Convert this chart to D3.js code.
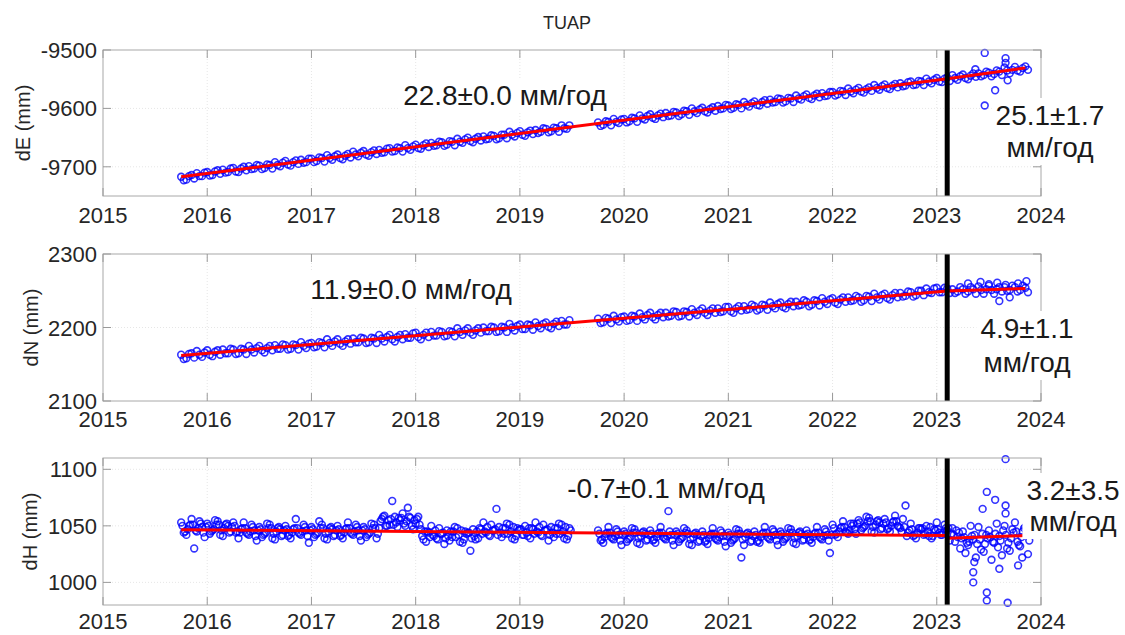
<!DOCTYPE html>
<html lang="ru">
<head>
<meta charset="UTF-8">
<title>TUAP</title>
<script src="https://d3js.org/d3.v7.min.js"></script>
<style>
  body { margin: 0; background: #fff; }
  svg { font-family: "Liberation Sans", Arial, sans-serif; }
</style>
</head>
<body>
<div id="chart"></div>
<script>
// station and time axis
const station = "TUAP";
const yearTicks = [2015, 2016, 2017, 2018, 2019, 2020, 2021, 2022, 2023, 2024];
const breakEpoch = 2023.1;
// solutions grouped in 0.05 yr bins from 2015.75 to 2023.85
const epochs = d3.range(163).map(i => +(2015.75 + 0.05 * i).toFixed(2));

// East component (mm), two solutions per bin, null = no data
const dE = [
  [-9717,-9723],[-9722,-9716],[-9714,-9720],[-9711,-9716],[-9716,-9710],
  [-9709,-9715],[-9714,-9708],[-9706,-9712],[-9705,-9710],[-9709,-9703],[-9702,-9708],[-9709,-9703],[-9700,-9706],[-9699,-9704],[-9703,-9697],
  [-9698,-9704],[-9702,-9696],[-9697,-9703],[-9692,-9697],[-9699,-9693],[-9690,-9696],[-9698,-9692],[-9689,-9695],[-9688,-9693],[-9692,-9686],
  [-9686,-9692],[-9690,-9684],[-9685,-9691],[-9680,-9685],[-9688,-9682],[-9679,-9685],[-9687,-9681],[-9678,-9684],[-9674,-9679],[-9682,-9676],
  [-9673,-9679],[-9681,-9675],[-9672,-9678],[-9671,-9676],[-9675,-9669],[-9668,-9674],[-9673,-9667],[-9668,-9674],[-9663,-9668],[-9671,-9665],
  [-9662,-9668],[-9669,-9663],[-9660,-9666],[-9659,-9664],[-9663,-9657],[-9658,-9664],[-9662,-9656],[-9657,-9663],[-9652,-9657],[-9659,-9653],
  [-9650,-9656],[-9658,-9652],[-9649,-9655],[-9648,-9653],[-9652,-9646],[-9647,-9653],[-9651,-9645],[-9645,-9651],[-9640,-9645],[-9648,-9642],
  [-9639,-9645],[-9647,-9641],[-9638,-9644],[-9637,-9642],[-9640,-9634],[-9635,-9641],[-9639,-9633],[-9634,-9640],[-9629,-9634],[-9635,-9629],
  null,null,null,null,null,
  [-9624,-9630],[-9628,-9622],[-9623,-9629],[-9618,-9623],[-9625,-9619],
  [-9618,-9624],[-9622,-9616],[-9617,-9623],[-9612,-9617],[-9619,-9613],[-9610,-9616],[-9618,-9612],[-9609,-9615],[-9608,-9613],[-9612,-9606],
  [-9607,-9613],[-9610,-9604],[-9605,-9611],[-9600,-9605],[-9608,-9602],[-9599,-9605],[-9607,-9601],[-9598,-9604],[-9596,-9601],[-9600,-9594],
  [-9595,-9601],[-9599,-9593],[-9594,-9600],[-9589,-9594],[-9597,-9591],[-9588,-9594],[-9595,-9589],[-9586,-9592],[-9585,-9590],[-9589,-9583],
  [-9584,-9590],[-9588,-9582],[-9583,-9589],[-9578,-9583],[-9585,-9579],[-9576,-9582],[-9584,-9578],[-9575,-9581],[-9574,-9579],[-9578,-9572],
  [-9572,-9578],[-9576,-9570],[-9571,-9577],[-9566,-9571],[-9574,-9568],[-9565,-9571],[-9573,-9567],[-9564,-9570],[-9560,-9565],[-9568,-9562],
  [-9559,-9565],[-9567,-9561],[-9558,-9564],[-9557,-9562],[-9561,-9555],[-9554,-9560],[-9559,-9553],[-9554,-9560],[-9549,-9554],[-9557,-9551],
  [-9548,-9554],[-9555,-9549],[-9547,-9553],
  [-9543,-9548],[-9551,-9545],[-9542,-9548],[-9550,-9544],[-9540,-9546],[-9540,-9545],[-9543,-9537],[-9539,-9545],
  [-9541,-9535],[-9537,-9543],[-9530,-9535],[-9540,-9534],[-9529,-9535],[-9537,-9531],[-9528,-9534]
];
// North component (mm)
const dN = [
  [2163,2157],[2158,2164],[2165,2159],[2168,2163],[2160,2166],
  [2169,2163],[2161,2167],[2169,2163],[2170,2165],[2165,2171],[2170,2164],[2165,2171],[2170,2164],[2175,2170],[2166,2172],
  [2175,2169],[2166,2172],[2175,2169],[2176,2171],[2171,2177],[2176,2170],[2171,2177],[2176,2170],[2180,2175],[2172,2178],
  [2179,2173],[2174,2180],[2179,2173],[2184,2179],[2175,2181],[2184,2178],[2175,2181],[2184,2178],[2185,2180],[2180,2186],
  [2185,2179],[2180,2186],[2185,2179],[2190,2185],[2181,2187],[2190,2184],[2181,2187],[2190,2184],[2191,2186],[2186,2192],
  [2193,2187],[2184,2190],[2193,2187],[2194,2189],[2189,2195],[2194,2188],[2189,2195],[2194,2188],[2199,2194],[2190,2196],
  [2199,2193],[2190,2196],[2199,2193],[2200,2195],[2195,2201],[2200,2194],[2195,2201],[2200,2194],[2205,2200],[2196,2202],
  [2204,2198],[2198,2204],[2203,2197],[2207,2202],[2199,2205],[2207,2201],[2199,2205],[2208,2202],[2209,2204],[2204,2210],
  null,null,null,null,null,
  [2212,2206],[2207,2213],[2212,2206],[2216,2211],[2208,2214],
  [2215,2209],[2210,2216],[2215,2209],[2219,2214],[2211,2217],[2220,2214],[2211,2217],[2220,2214],[2220,2215],[2216,2222],
  [2221,2215],[2216,2222],[2221,2215],[2225,2220],[2217,2223],[2226,2220],[2217,2223],[2226,2220],[2226,2221],[2222,2228],
  [2228,2222],[2220,2226],[2229,2223],[2229,2224],[2225,2231],[2229,2223],[2225,2231],[2230,2224],[2234,2229],[2226,2232],
  [2234,2228],[2226,2232],[2235,2229],[2235,2230],[2231,2237],[2235,2229],[2231,2237],[2236,2230],[2240,2235],[2232,2238],
  [2240,2234],[2232,2238],[2241,2235],[2241,2236],[2237,2243],[2241,2235],[2237,2243],[2242,2236],[2246,2241],[2238,2244],
  [2246,2240],[2238,2244],[2247,2241],[2247,2242],[2243,2249],[2248,2242],[2244,2250],[2250,2244],[2253,2248],[2247,2253],
  [2254,2248],[2248,2254],[2253,2247],
  [2252,2247],[2249,2255],[2252,2246],[2249,2255],[2252,2246],[2256,2251],[2246,2252],[2257,2251],
  [2246,2252],[2255,2249],[2255,2250],[2251,2257],[2255,2249],[2251,2257],[2254,2248]
];
// Up component (mm): two sets of two solutions per bin
const dH1 = [
  [1053,1044],[1042,1050],[1056,1030],[1045,1054],[1049,1040],[1052,1043],[1046,1055],[1054,1042],[1041,1051],[1050,1045],[1053,1044],
  [1039,1047],[1053,1044],[1042,1051],[1046,1037],[1049,1040],[1043,1052],[1051,1039],[1038,1048],[1047,1042],[1050,1041],
  [1039,1047],[1056,1044],[1042,1051],[1046,1035],[1049,1040],[1043,1054],[1051,1039],[1038,1048],[1047,1042],[1050,1041],
  [1039,1047],[1053,1044],[1042,1051],[1046,1037],[1049,1040],[1043,1052],[1051,1039],
  [1048,1056],[1059,1050],[1051,1072],[1058,1049],[1055,1061],[1050,1066],[1057,1047],[1052,1058],
  [1047,1038],[1036,1044],[1050,1041],[1039,1048],[1043,1034],[1046,1037],[1040,1049],[1048,1036],[1035,1045],[1044,1028],[1047,1038],
  [1039,1047],[1053,1044],[1042,1051],[1046,1065],[1049,1040],[1043,1052],[1051,1039],[1038,1048],[1047,1042],
  [1050,1041],[1039,1047],[1053,1044],[1042,1051],[1046,1037],[1049,1040],[1043,1052],[1051,1039],[1038,1048],
  null,null,null,null,null,
  [1046,1037],[1035,1043],[1049,1040],[1038,1047],[1042,1033],[1045,1036],[1039,1048],[1047,1035],[1034,1044],
  [1043,1038],[1046,1037],[1035,1043],[1049,1040],[1038,1063],[1042,1033],[1045,1036],[1039,1048],
  [1046,1034],[1033,1043],[1042,1037],[1045,1036],[1034,1042],[1048,1039],[1037,1046],
  [1041,1032],[1044,1035],[1038,1047],[1046,1022],[1033,1043],[1042,1037],[1045,1036],
  [1035,1043],[1049,1040],[1038,1047],[1042,1033],[1045,1036],[1039,1048],[1047,1035],
  [1034,1044],[1043,1038],[1046,1037],[1035,1043],[1049,1040],[1038,1047],[1042,1026],
  [1051,1042],[1040,1048],[1054,1045],[1043,1052],[1052,1043],[1055,1046],[1049,1058],
  [1057,1045],[1044,1054],[1053,1048],[1056,1047],[1045,1053],[1059,1050],
  [1048,1056],[1068,1044],[1052,1041],[1039,1048],[1047,1042],[1050,1041],[1039,1047],[1053,1044],[1042,1051],[1046,1037],
  [1048,1036],[1040,1030],[1045,1026],[1033,1050],[1038,1022],[1049,1029],[1027,1042],[1046,1020],
  [1035,1052],[1041,1024],[1050,1030],[1028,1047],[1053,1036],[1032,1045],[1049,1025]
];
const dH2 = [
  [1050,1045],[1047,1051],[1051,1046],[1048,1052],[1044,1049],[1050,1045],[1047,1051],[1051,1046],[1048,1052],[1044,1049],[1050,1045],
  [1044,1048],[1048,1043],[1045,1049],[1041,1046],[1047,1042],[1044,1048],[1048,1043],[1045,1049],[1041,1046],[1047,1042],
  [1044,1048],[1048,1043],[1045,1049],[1041,1046],[1047,1042],[1044,1048],[1048,1043],[1045,1049],[1041,1046],[1047,1042],
  [1044,1048],[1048,1043],[1045,1049],[1041,1046],[1047,1042],[1044,1048],[1048,1043],
  [1054,1058],[1050,1055],[1056,1051],[1053,1057],[1057,1052],[1054,1058],[1050,1055],[1056,1051],
  [1041,1045],[1045,1040],[1042,1046],[1038,1043],[1044,1039],[1041,1045],[1045,1040],[1042,1046],[1038,1043],[1044,1039],[1041,1045],
  [1048,1043],[1045,1049],[1041,1046],[1047,1042],[1044,1048],[1048,1043],[1045,1049],[1041,1046],[1047,1042],
  [1044,1048],[1048,1043],[1045,1049],[1041,1046],[1047,1042],[1044,1048],[1048,1043],[1045,1049],[1041,1046],
  null,null,null,null,null,
  [1043,1038],[1040,1044],[1044,1039],[1041,1045],[1037,1042],[1043,1038],[1040,1044],[1044,1039],[1041,1045],
  [1037,1042],[1043,1038],[1040,1044],[1044,1039],[1041,1045],[1037,1042],[1043,1038],[1040,1044],
  [1043,1038],[1040,1044],[1036,1041],[1042,1037],[1039,1043],[1043,1038],[1040,1044],
  [1036,1041],[1042,1037],[1039,1043],[1043,1038],[1040,1044],[1036,1041],[1042,1037],
  [1040,1044],[1044,1039],[1041,1045],[1037,1042],[1043,1038],[1040,1044],[1044,1039],
  [1041,1045],[1037,1042],[1043,1038],[1040,1044],[1044,1039],[1041,1045],[1037,1042],
  [1048,1043],[1045,1049],[1049,1044],[1046,1050],[1047,1052],[1053,1048],[1050,1054],
  [1054,1049],[1051,1055],[1047,1052],[1053,1048],[1050,1054],[1054,1049],
  [1045,1049],[1041,1046],[1047,1042],[1044,1048],[1048,1043],[1045,1049],[1041,1046],[1047,1042],[1044,1048],[1048,1043],
  [1042,1046],[1044,1039],[1040,1035],[1036,1041],[1042,1034],[1038,1043],[1034,1039],[1040,1036],
  [1043,1031],[1037,1046],[1042,1035],[1039,1044],[1045,1033],[1040,1048],[1044,1037]
];

// scattered solutions after the break [epoch, value]
const outE = [[2023.37,-9533],[2023.46,-9505],[2023.46,-9595],[2023.56,-9569],[2023.66,-9514],[2023.66,-9522],[2023.68,-9552]];
const outN = [[2023.30,2260],[2023.42,2262],[2023.50,2259],[2023.58,2261],[2023.66,2258],[2023.78,2260],[2023.86,2263],[2023.60,2236],[2023.70,2241]];
const outH = [[2023.35,1009],[2023.36,1018],[2023.35,1000],[2023.48,1080],[2023.56,1073],[2023.44,1065],[2023.66,1068],[2023.66,1061],
              [2023.48,991],[2023.48,984],[2023.68,982],[2023.66,1109],[2023.78,1015],[2023.82,1022],[2023.60,1012]];

// linear fits before / after the break [epoch, value]
const fitE = [[[2015.75,-9717],[2023.1,-9549.4]], [[2023.1,-9549.4],[2023.85,-9530.6]]];
const fitN = [[[2015.75,2162],[2023.1,2249.5]], [[2023.1,2249.5],[2023.85,2253.2]]];
const fitH = [[[2015.75,1046.5],[2023.1,1041.4]], [[2023.1,1039],[2023.85,1041.4]]];

// y ticks
const ticksE = [-9700, -9600, -9500];
const ticksN = [2100, 2200, 2300];
const ticksH = [1000, 1050, 1100];

// velocities
const ratesPre = ["22.8±0.0", "11.9±0.0", "-0.7±0.1"];
const ratesPost = ["25.1±1.7", "4.9±1.1", "3.2±3.5"];
const unit = "мм/год";

const W = 1125, H = 635;
const svg = d3.select("#chart").append("svg").attr("width", W).attr("height", H);
const x = d3.scaleLinear().domain([2015, 2024]).range([103, 1041]);

svg.append("text").attr("x", 567).attr("y", 29).attr("text-anchor", "middle")
   .attr("font-size", 18).attr("fill", "#262626").text(station);

// flatten binned solutions into [epoch, value]; offsets spread the solutions inside a bin
const toPoints = (s, offs) => epochs.flatMap((t, i) => s[i] == null ? [] : s[i].map((v, j) => [t + offs[j], v]));

const panels = [
  {name: "dE (mm)", top: 50, bottom: 196, domain: [-9750, -9500], ticks: ticksE,
   pts: toPoints(dE, [0, 0.025]), out: outE, fit: fitE, lx: 23, xly: 223,
   pre: [505, 105], post: [1050, 125, 157]},
  {name: "dN (mm)", top: 254, bottom: 401, domain: [2100, 2300], ticks: ticksN,
   pts: toPoints(dN, [0, 0.025]), out: outN, fit: fitN, lx: 31, xly: 427,
   pre: [411, 299], post: [1027, 338, 372]},
  {name: "dH (mm)", top: 458, bottom: 605, domain: [980, 1110], ticks: ticksH,
   pts: toPoints(dH1, [0, 0.025]).concat(toPoints(dH2, [0.0125, 0.0375])), out: outH, fit: fitH, lx: 30, xly: 629,
   pre: [666, 498], post: [1073, 500, 531]}
];

panels.forEach((p, pi) => {
  const y = d3.scaleLinear().domain(p.domain).range([p.bottom, p.top]);
  const g = svg.append("g");
  const x0 = x.range()[0], x1 = x.range()[1];

  // grid
  g.selectAll(".vg").data(yearTicks.slice(1, -1)).join("line")
   .attr("x1", d => x(d)).attr("x2", d => x(d)).attr("y1", p.top).attr("y2", p.bottom)
   .attr("stroke", "#e6e6e6").attr("stroke-dasharray", "1,2");
  g.selectAll(".hg").data(p.ticks.filter(d => y(d) > p.top + 1 && y(d) < p.bottom - 1)).join("line")
   .attr("x1", x0).attr("x2", x1).attr("y1", d => y(d)).attr("y2", d => y(d))
   .attr("stroke", "#e6e6e6").attr("stroke-dasharray", "1,2");

  // observations
  g.append("g").selectAll("circle").data(p.pts.concat(p.out)).join("circle")
   .attr("cx", d => x(d[0])).attr("cy", d => y(d[1])).attr("r", 3.4)
   .attr("fill", "none").attr("stroke", "#0000ff").attr("stroke-opacity", 0.8).attr("stroke-width", 1.6);

  // fits
  const line = d3.line().x(d => x(d[0])).y(d => y(d[1]));
  p.fit.forEach(seg => g.append("path").attr("d", line(seg))
     .attr("stroke", "#ff0000").attr("stroke-width", 3).attr("fill", "none"));

  // break epoch
  g.append("line").attr("x1", x(breakEpoch)).attr("x2", x(breakEpoch))
   .attr("y1", p.top).attr("y2", p.bottom).attr("stroke", "#000").attr("stroke-width", 5);

  // box and inner ticks
  g.append("rect").attr("x", x0).attr("y", p.top).attr("width", x1 - x0).attr("height", p.bottom - p.top)
   .attr("fill", "none").attr("stroke", "#a8a8a8");
  const tl = 8;
  yearTicks.forEach(t => {
    g.append("line").attr("x1", x(t)).attr("x2", x(t)).attr("y1", p.bottom).attr("y2", p.bottom - tl).attr("stroke", "#999");
    g.append("line").attr("x1", x(t)).attr("x2", x(t)).attr("y1", p.top).attr("y2", p.top + tl).attr("stroke", "#999");
  });
  p.ticks.forEach(v => {
    g.append("line").attr("x1", x0).attr("x2", x0 + tl).attr("y1", y(v)).attr("y2", y(v)).attr("stroke", "#999");
    g.append("line").attr("x1", x1).attr("x2", x1 - tl).attr("y1", y(v)).attr("y2", y(v)).attr("stroke", "#999");
  });

  // tick labels
  g.selectAll(".xl").data(yearTicks).join("text")
   .attr("x", d => x(d)).attr("y", p.xly).attr("text-anchor", "middle")
   .attr("font-size", 22).attr("fill", "#262626").text(d => d);
  g.selectAll(".yl").data(p.ticks).join("text")
   .attr("x", 97).attr("y", d => y(d) + 8).attr("text-anchor", "end")
   .attr("font-size", 22).attr("fill", "#262626").text(d => d);

  // axis title
  g.append("text").attr("transform", `translate(${p.lx},${(p.top + p.bottom) / 2}) rotate(-90)`)
   .attr("text-anchor", "middle").attr("dy", "0.35em").attr("font-size", 20).attr("fill", "#262626").text(p.name);

  // velocity labels with white background
  function label(lines) {
    const lg = g.append("g");
    const bg = lg.append("rect").attr("fill", "#fff");
    lines.forEach(([s, lx, ly]) => lg.append("text").attr("x", lx).attr("y", ly)
      .attr("text-anchor", "middle").attr("font-size", 28).attr("fill", "#1a1a1a").text(s));
    const bb = lg.node().getBBox();
    bg.attr("x", bb.x - 4).attr("y", bb.y - 2).attr("width", bb.width + 8).attr("height", bb.height + 4);
  }
  label([[ratesPre[pi] + " " + unit, p.pre[0], p.pre[1]]]);
  label([[ratesPost[pi], p.post[0], p.post[1]], [unit, p.post[0], p.post[2]]]);
});
</script>
</body>
</html>
